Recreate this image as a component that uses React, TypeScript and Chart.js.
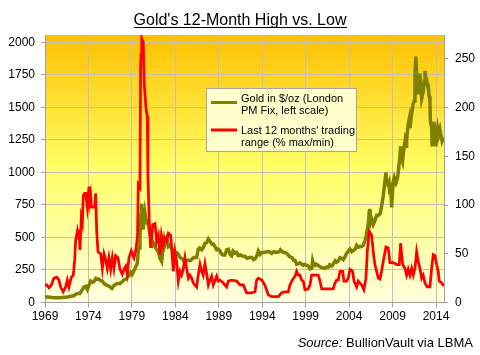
import React, { useEffect, useRef } from "react";
import { Chart, registerables } from "chart.js";

Chart.register(...registerables);

const titleText = "Gold's 12-Month High vs. Low";
const legendGoldLines = ["Gold in $/oz (London", "PM Fix, left scale)"];
const legendRangeLines = ["Last 12 months' trading", "range (% max/min)"];
const sourceItalic = "Source:";
const sourceRest = " BullionVault via LBMA";

const xTickYears = [1969, 1974, 1979, 1984, 1989, 1994, 1999, 2004, 2009, 2014];
const leftTicks = [0, 250, 500, 750, 1000, 1250, 1500, 1750, 2000];
const rightTicks = [0, 50, 100, 150, 200, 250];

const goldYears = [
  1969.0, 1969.3, 1969.6, 1969.9, 1970.04, 1970.4, 1970.8, 1971.19, 1971.6, 1971.96,
  1972.3, 1972.7, 1973.0, 1973.3, 1973.5, 1973.68, 1973.87, 1974.05, 1974.25, 1974.45,
  1974.64, 1974.85, 1975.02, 1975.2, 1975.4, 1975.6, 1975.85, 1976.17, 1976.5, 1976.7,
  1976.94, 1977.32, 1977.6, 1977.9, 1978.09, 1978.35, 1978.67, 1978.85, 1979.0, 1979.24,
  1979.45, 1979.62, 1979.74, 1979.85, 1979.93, 1980.05, 1980.12, 1980.2, 1980.3, 1980.5,
  1980.6, 1980.7, 1980.9, 1981.08, 1981.28, 1981.46, 1981.6, 1981.77, 1982.04, 1982.23,
  1982.43, 1982.6, 1982.7, 1982.8, 1983.0, 1983.1, 1983.2, 1983.38, 1983.58, 1983.75,
  1983.96, 1984.15, 1984.34, 1984.55, 1984.72, 1984.9, 1985.11, 1985.3, 1985.5, 1985.7,
  1985.88, 1986.1, 1986.26, 1986.45, 1986.64, 1986.8, 1987.03, 1987.2, 1987.41, 1987.6,
  1987.8, 1988.0, 1988.18, 1988.37, 1988.56, 1988.76, 1988.94, 1989.14, 1989.35, 1989.52,
  1989.7, 1989.9, 1990.1, 1990.3, 1990.48, 1990.65, 1990.87, 1991.05, 1991.25, 1991.5,
  1991.75, 1992.0, 1992.25, 1992.5, 1992.79, 1993.0, 1993.17, 1993.36, 1993.55, 1993.75,
  1993.94, 1994.2, 1994.5, 1994.8, 1995.09, 1995.35, 1995.66, 1995.95, 1996.1, 1996.24,
  1996.45, 1996.62, 1996.9, 1997.19, 1997.45, 1997.6, 1997.77, 1997.96, 1998.15, 1998.34,
  1998.54, 1998.72, 1998.92, 1999.1, 1999.3, 1999.5, 1999.7, 1999.8, 1999.88, 2000.07,
  2000.2, 2000.45, 2000.65, 2000.84, 2001.03, 2001.2, 2001.4, 2001.6, 2001.75, 2001.98,
  2002.17, 2002.4, 2002.56, 2002.75, 2002.95, 2003.14, 2003.33, 2003.52, 2003.72, 2003.9,
  2004.1, 2004.3, 2004.49, 2004.7, 2004.87, 2005.05, 2005.26, 2005.45, 2005.64, 2005.8,
  2005.95, 2006.09, 2006.2, 2006.32, 2006.4, 2006.5, 2006.6, 2006.78, 2006.97, 2007.17,
  2007.36, 2007.55, 2007.74, 2007.93, 2008.12, 2008.24, 2008.32, 2008.5, 2008.6, 2008.7,
  2008.8, 2008.9, 2009.0, 2009.08, 2009.2, 2009.4, 2009.55, 2009.66, 2009.85, 2009.93,
  2010.05, 2010.15, 2010.24, 2010.43, 2010.55, 2010.62, 2010.8, 2010.92, 2011.0, 2011.2,
  2011.38, 2011.5, 2011.58, 2011.68, 2011.77, 2011.83, 2011.9, 2012.0, 2012.07, 2012.15,
  2012.22, 2012.35, 2012.45, 2012.53, 2012.65, 2012.73, 2012.85, 2012.92, 2013.1, 2013.2,
  2013.3, 2013.35, 2013.5, 2013.55, 2013.68, 2013.75, 2013.88, 2013.98, 2014.07, 2014.2,
  2014.3, 2014.45, 2014.55, 2014.7, 2014.88,
];
const goldPrice = [
  43, 43, 41, 36, 36, 36, 37, 40, 42, 48,
  52, 70, 70, 100, 120, 125, 100, 130, 165, 155,
  160, 185, 178, 180, 168, 165, 142, 132, 120, 108,
  130, 148, 145, 160, 175, 180, 210, 230, 215, 245,
  275, 300, 400, 420, 500, 680, 760, 640, 560, 690,
  650, 620, 595, 520, 490, 440, 450, 415, 390, 340,
  315, 440, 480, 445, 490, 470, 430, 440, 415, 400,
  385, 385, 370, 345, 340, 330, 300, 320, 325, 320,
  330, 345, 345, 345, 410, 420, 405, 420, 455, 460,
  490, 470, 450, 450, 430, 405, 410, 395, 370, 365,
  365, 405, 410, 370, 360, 395, 380, 385, 360, 365,
  355, 355, 340, 345, 345, 330, 335, 355, 395, 370,
  385, 385, 390, 390, 378, 390, 385, 390, 405, 395,
  385, 385, 372, 350, 345, 325, 325, 295, 298, 305,
  295, 285, 292, 287, 280, 258, 262, 320, 300, 285,
  295, 285, 275, 268, 268, 262, 272, 270, 290, 280,
  295, 320, 310, 320, 345, 340, 330, 350, 380, 395,
  410, 390, 400, 410, 440, 425, 430, 430, 440, 470,
  505, 560, 600, 700, 720, 620, 640, 600, 630, 670,
  670, 680, 740, 820, 930, 1000, 920, 900, 920, 830,
  880, 730, 850, 930, 960, 920, 950, 1000, 1130, 1200,
  1100, 1080, 1150, 1240, 1200, 1250, 1370, 1410, 1340, 1450,
  1530, 1550, 1750, 1890, 1750, 1640, 1750, 1600, 1640, 1760,
  1680, 1570, 1600, 1620, 1700, 1780, 1720, 1700, 1670, 1590,
  1560, 1400, 1340, 1200, 1330, 1390, 1330, 1200, 1250, 1330,
  1290, 1330, 1290, 1240, 1270,
];

const rangeYears = [
  1969.0, 1969.2, 1969.46, 1969.73, 1969.9, 1970.04, 1970.35, 1970.61, 1970.8, 1971.1,
  1971.38, 1971.57, 1971.76, 1972.03, 1972.26, 1972.42, 1972.53, 1972.72, 1972.83, 1972.91,
  1973.03, 1973.18, 1973.3, 1973.41, 1973.55, 1973.68, 1973.87, 1974.06, 1974.15, 1974.25,
  1974.35, 1974.6, 1974.72, 1974.83, 1974.95, 1975.1, 1975.41, 1975.6, 1975.79, 1975.98,
  1976.17, 1976.36, 1976.56, 1976.75, 1976.94, 1977.13, 1977.4, 1977.63, 1977.9, 1978.09,
  1978.28, 1978.47, 1978.67, 1978.93, 1979.24, 1979.43, 1979.55, 1979.65, 1979.74, 1979.93,
  1980.0, 1980.05, 1980.13, 1980.31, 1980.43, 1980.62, 1980.77, 1980.85, 1981.0, 1981.16,
  1981.4, 1981.66, 1981.85, 1982.04, 1982.23, 1982.4, 1982.6, 1982.8, 1983.0, 1983.2,
  1983.46, 1983.58, 1983.77, 1983.96, 1984.15, 1984.34, 1984.53, 1984.72, 1984.92, 1985.11,
  1985.3, 1985.5, 1985.69, 1985.88, 1986.07, 1986.45, 1986.64, 1986.84, 1987.03, 1987.2,
  1987.41, 1987.6, 1987.8, 1987.99, 1988.18, 1988.37, 1988.76, 1988.94, 1989.14, 1989.52,
  1989.9, 1990.1, 1990.48, 1991.06, 1991.44, 1991.82, 1992.2, 1992.79, 1993.17, 1993.36,
  1993.55, 1993.94, 1994.3, 1994.7, 1995.09, 1995.85, 1996.24, 1996.62, 1997.0, 1997.19,
  1997.46, 1997.77, 1997.96, 1998.15, 1998.34, 1998.54, 1998.72, 1998.92, 1999.3, 1999.5,
  1999.69, 2000.07, 2000.45, 2000.65, 2000.84, 2001.2, 2001.8, 2002.17, 2002.37, 2002.56,
  2002.75, 2002.95, 2003.26, 2003.4, 2003.72, 2003.9, 2004.1, 2004.4, 2004.56, 2004.87,
  2005.05, 2005.44, 2005.7, 2005.94, 2006.09, 2006.32, 2006.6, 2006.78, 2006.97, 2007.36,
  2007.55, 2007.74, 2007.93, 2008.24, 2008.5, 2008.7, 2009.08, 2009.47, 2009.77, 2009.93,
  2010.16, 2010.43, 2010.62, 2010.8, 2011.0, 2011.2, 2011.38, 2011.58, 2011.77, 2011.96,
  2012.15, 2012.35, 2012.53, 2012.73, 2012.99, 2013.3, 2013.5, 2013.68, 2013.88, 2014.07,
  2014.26, 2014.37, 2014.65, 2014.88,
];
const rangePct = [
  18, 18, 15, 18, 22, 25, 26, 23, 16, 11,
  16, 23, 16, 26, 28, 44, 64, 73, 66, 75,
  54, 87, 82, 110, 112, 112, 98, 119, 104, 110,
  98, 98, 98, 112, 73, 52, 50, 35, 50, 44,
  35, 46, 34, 46, 35, 48, 46, 34, 29, 34,
  37, 29, 46, 53, 46, 53, 60, 69, 121, 118,
  240, 255, 271, 267, 223, 200, 191, 129, 83, 56,
  80, 81, 63, 69, 49, 69, 59, 66, 63, 71,
  69, 56, 32, 52, 42, 22, 32, 28, 35, 46,
  35, 25, 28, 25, 20, 16, 28, 39, 32, 28,
  40, 30, 18, 23, 27, 18, 27, 22, 23, 20,
  16, 22, 23, 22, 18, 18, 10, 10, 11, 23,
  25, 23, 18, 8, 6, 6, 10, 11, 11, 18,
  23, 27, 32, 28, 28, 23, 22, 13, 14, 18,
  28, 28, 28, 22, 14, 14, 14, 14, 20, 23,
  23, 32, 32, 22, 22, 25, 34, 32, 22, 16,
  22, 18, 13, 25, 52, 73, 69, 52, 39, 25,
  24, 32, 42, 57, 56, 41, 41, 39, 39, 61,
  39, 35, 28, 34, 28, 35, 28, 35, 52, 42,
  35, 25, 28, 20, 16, 16, 35, 49, 48, 39,
  32, 22, 20, 17,
];

const FONT = "'Liberation Sans', Arial, sans-serif";

const decorPlugin = {
  id: "decor",
  beforeDraw(chart: any) {
    const { ctx, chartArea } = chart;
    ctx.save();
    ctx.fillStyle = "#ffffff";
    ctx.fillRect(0, 0, chart.width, chart.height);
    const g = ctx.createLinearGradient(0, chartArea.top, 0, chartArea.bottom);
    g.addColorStop(0, "#FFC000");
    g.addColorStop(0.5, "#FFFF66");
    g.addColorStop(1, "#FFFFE0");
    ctx.fillStyle = g;
    ctx.fillRect(chartArea.left, chartArea.top, chartArea.right - chartArea.left, chartArea.bottom - chartArea.top);
    ctx.restore();
  },
  afterDraw(chart: any) {
    const { ctx } = chart;
    ctx.save();
    // title
    ctx.font = `16px ${FONT}`;
    ctx.fillStyle = "#000";
    ctx.textAlign = "center";
    ctx.textBaseline = "alphabetic";
    ctx.fillText(titleText, 240, 25);
    const tw = ctx.measureText(titleText).width;
    ctx.fillRect(Math.round(240 - tw / 2), 27, Math.round(tw), 1);

    // legend box
    ctx.fillStyle = "#FFFFCC";
    ctx.fillRect(206, 88, 150, 63);
    ctx.strokeStyle = "#A6A6A6";
    ctx.lineWidth = 1;
    ctx.strokeRect(206.5, 88.5, 150, 63);
    ctx.lineWidth = 3;
    ctx.strokeStyle = "#808000";
    ctx.beginPath();
    ctx.moveTo(211, 102.5);
    ctx.lineTo(237, 102.5);
    ctx.stroke();
    ctx.strokeStyle = "#FF0000";
    ctx.beginPath();
    ctx.moveTo(211, 130);
    ctx.lineTo(237, 130);
    ctx.stroke();
    ctx.font = `11px ${FONT}`;
    ctx.fillStyle = "#000";
    ctx.textAlign = "left";
    ctx.fillText(legendGoldLines[0], 241, 102);
    ctx.fillText(legendGoldLines[1], 241, 114);
    ctx.fillText(legendRangeLines[0], 241, 134);
    ctx.fillText(legendRangeLines[1], 241, 146);

    // source
    ctx.font = `13px ${FONT}`;
    const restW = ctx.measureText(sourceRest).width;
    ctx.font = `italic 13px ${FONT}`;
    const itW = ctx.measureText(sourceItalic).width;
    const right = 473;
    const startX = right - restW - itW;
    ctx.fillText(sourceItalic, startX, 347);
    ctx.font = `13px ${FONT}`;
    ctx.fillText(sourceRest, startX + itW, 347);
    ctx.restore();
  },
};

export default function App() {
  const canvasRef = useRef<HTMLCanvasElement | null>(null);

  useEffect(() => {
    const canvas = canvasRef.current;
    if (!canvas) return;
    Chart.defaults.font.family = FONT;
    const chart = new Chart(canvas, {
      type: "line",
      data: {
        datasets: [
          {
            label: "Gold in $/oz (London PM Fix, left scale)",
            data: goldYears.map((x, i) => ({ x, y: goldPrice[i] })),
            borderColor: "#808000",
            backgroundColor: "#808000",
            borderWidth: 3.5,
            pointRadius: 0,
            tension: 0,
            yAxisID: "y",
            order: 2,
          },
          {
            label: "Last 12 months' trading range (% max/min)",
            data: rangeYears.map((x, i) => ({ x, y: rangePct[i] })),
            borderColor: "#FF0000",
            backgroundColor: "#FF0000",
            borderWidth: 2.75,
            pointRadius: 0,
            tension: 0,
            yAxisID: "y1",
            order: 1,
          },
        ],
      },
      options: {
        responsive: false,
        animation: false,
        devicePixelRatio: 1,
        layout: { padding: { top: 35, bottom: 30, left: 0, right: 0 } },
        plugins: {
          legend: { display: false },
          title: { display: false },
          tooltip: { enabled: false },
        },
        scales: {
          x: {
            type: "linear",
            min: 1969,
            max: 2014.92,
            afterBuildTicks: (scale: any) => {
              scale.ticks = xTickYears.map((v) => ({ value: v }));
            },
            afterFit: (scale: any) => {
              scale.height = 22.5;
            },
            grid: { color: "#C0C0C0", tickColor: "#A0A0A0", tickLength: 5, lineWidth: 1 },
            border: { color: "#A0A0A0" },
            ticks: {
              color: "#000",
              font: { size: 12, family: FONT },
              padding: 2,
              maxRotation: 0,
              autoSkip: false,
              callback: (v: any) => String(v),
            },
          },
          y: {
            type: "linear",
            position: "left",
            min: 0,
            max: 2056,
            afterBuildTicks: (scale: any) => {
              scale.ticks = leftTicks.map((v) => ({ value: v }));
            },
            afterFit: (scale: any) => {
              scale.width = 45;
            },
            grid: { color: "#C0C0C0", tickColor: "#A0A0A0", tickLength: 4, lineWidth: 1 },
            border: { color: "#A0A0A0" },
            ticks: {
              color: "#000",
              font: { size: 12, family: FONT },
              padding: 6,
              callback: (v: any) => String(v),
            },
          },
          y1: {
            type: "linear",
            position: "right",
            min: 0,
            max: 274.6,
            afterBuildTicks: (scale: any) => {
              scale.ticks = rightTicks.map((v) => ({ value: v }));
            },
            afterFit: (scale: any) => {
              scale.width = 36;
            },
            grid: { drawOnChartArea: false, tickColor: "#A0A0A0", tickLength: 4, lineWidth: 1 },
            border: { color: "#A0A0A0" },
            ticks: {
              color: "#000",
              font: { size: 12, family: FONT },
              padding: 7,
              callback: (v: any) => String(v),
            },
          },
        },
      },
      plugins: [decorPlugin],
    });
    return () => chart.destroy();
  }, []);

  return (
    <div style={{ position: "fixed", left: 0, top: 0, width: 480, height: 355, background: "#fff" }}>
      <canvas ref={canvasRef} width={480} height={355} style={{ display: "block", width: 480, height: 355 }} />
    </div>
  );
}
